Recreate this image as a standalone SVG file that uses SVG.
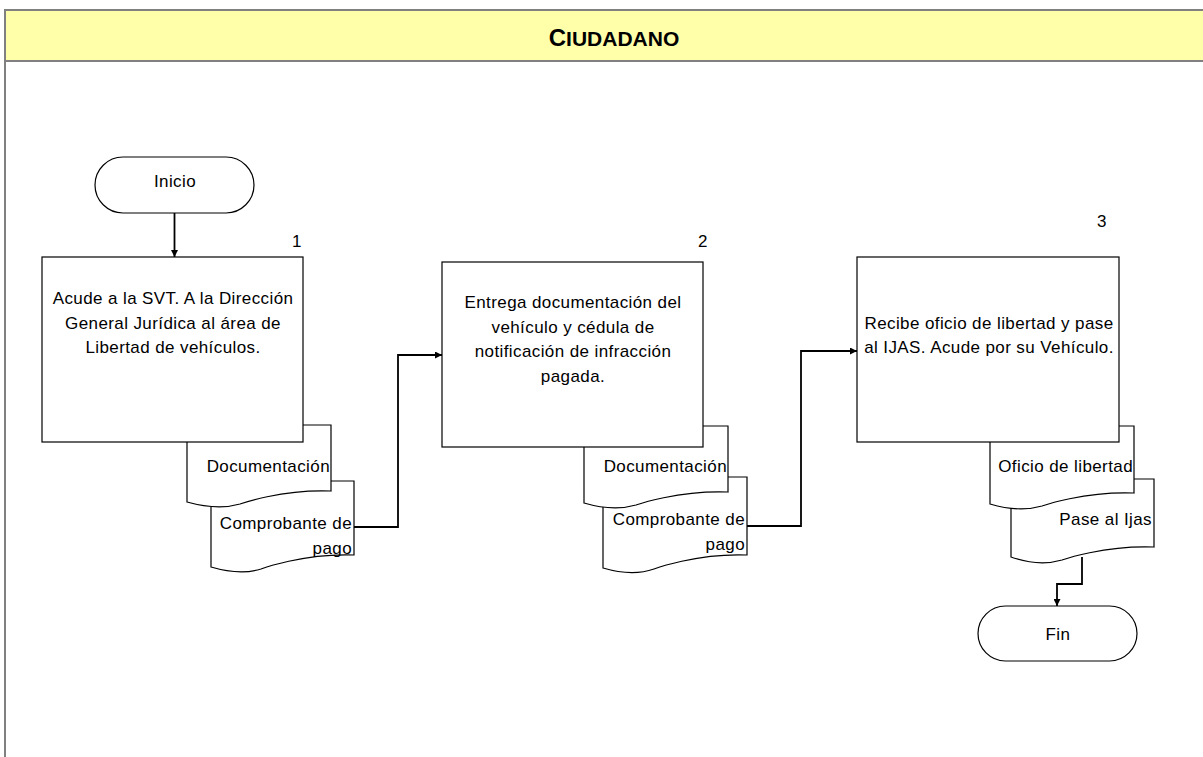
<svg xmlns="http://www.w3.org/2000/svg" width="1203" height="757" viewBox="0 0 1203 757">
<defs>
<style>
.lane{fill:none;stroke:#808080;stroke-width:2}
.box{fill:#fff;stroke:#000;stroke-width:1.2}
.t{font-family:"Liberation Sans",Arial,sans-serif;font-size:17px;letter-spacing:0.4px;fill:#000}
.m{text-anchor:middle}
.e{text-anchor:end}
.conn{fill:none;stroke:#000;stroke-width:1.8}
.title{font-family:"Liberation Sans",Arial,sans-serif;font-weight:bold;fill:#000;text-anchor:middle}
</style>
<marker id="arr" viewBox="0 0 10 10" refX="10" refY="5" markerWidth="7" markerHeight="7" markerUnits="userSpaceOnUse" orient="auto">
<path d="M0,0 L10,5 L0,10 Z" fill="#000"/>
</marker>
</defs>
<rect x="0" y="0" width="1203" height="757" fill="#fff"/>
<g id="lane">
<rect x="5" y="10" width="1200" height="51" fill="#FFFFAA"/>
<line class="lane" x1="4" y1="10" x2="1203" y2="10"/>
<line class="lane" x1="4" y1="61" x2="1203" y2="61"/>
<line class="lane" x1="5" y1="9" x2="5" y2="757"/>
<text class="title" x="614" y="46"><tspan font-size="24">C</tspan><tspan font-size="21">IUDADANO</tspan></text>
</g>
<g id="connectors">
<line class="conn" x1="174.5" y1="213" x2="174.5" y2="257" marker-end="url(#arr)"/>
<polyline class="conn" points="354,527 398,527 398,355 442,355" marker-end="url(#arr)"/>
<polyline class="conn" points="747,526 801,526 801,351 857,351" marker-end="url(#arr)"/>
<polyline class="conn" points="1082,557 1082,584 1057,584 1057,606" marker-end="url(#arr)"/>
</g>
<g id="inicio">
<rect class="box" x="95" y="157" width="159" height="56" rx="28" ry="28"/>
<text class="t m" x="175" y="187">Inicio</text>
</g>
<g id="doc1b">
<path class="box" d="M211,481 L354,481 L354,555 C304,553 261,569 261,569 C245,574 228,572 211,567 Z"/>
<text class="t e" x="352" y="529">Comprobante de</text>
<text class="t e" x="352" y="554">pago</text>
</g>
<g id="doc1a">
<path class="box" d="M187,425 L331,425 L331,491 C282,489 240,504 240,504 C223,509 205,507 187,502 Z"/>
<text class="t e" x="330" y="472">Documentación</text>
</g>
<g id="step1">
<rect class="box" x="42" y="257" width="261" height="185"/>
<text class="t m" x="173" y="304">Acude a la SVT. A la Dirección</text>
<text class="t m" x="173" y="329">General Jurídica al área de</text>
<text class="t m" x="173" y="353">Libertad de vehículos.</text>
<text class="t m" x="297" y="247">1</text>
</g>
<g id="doc2b">
<path class="box" d="M603,477 L747,477 L747,555 C697,553 654,569 654,569 C637,575 620,573 603,568 Z"/>
<text class="t e" x="745" y="525">Comprobante de</text>
<text class="t e" x="745" y="550">pago</text>
</g>
<g id="doc2a">
<path class="box" d="M584,426 L728,426 L728,492 C679,490 636,505 636,505 C619,510 601,508 584,503 Z"/>
<text class="t e" x="727" y="472">Documentación</text>
</g>
<g id="step2">
<rect class="box" x="442" y="262" width="261" height="185"/>
<text class="t m" x="573" y="308">Entrega documentación del</text>
<text class="t m" x="573" y="333">vehículo y  cédula de</text>
<text class="t m" x="573" y="357">notificación de infracción</text>
<text class="t m" x="573" y="382">pagada.</text>
<text class="t m" x="703" y="247">2</text>
</g>
<g id="doc3b">
<path class="box" d="M1011,479 L1154,479 L1154,547 C1105,545 1062,560 1062,560 C1045,565 1028,563 1011,557 Z"/>
<text class="t e" x="1152" y="525">Pase al Ijas</text>
</g>
<g id="doc3a">
<path class="box" d="M990,426 L1134,426 L1134,493 C1085,491 1042,506 1042,506 C1025,511 1007,509 990,504 Z"/>
<text class="t e" x="1133" y="472">Oficio de libertad</text>
</g>
<g id="step3">
<rect class="box" x="857" y="257" width="262" height="185"/>
<text class="t m" x="989" y="329">Recibe oficio de libertad y pase</text>
<text class="t m" x="989" y="353">al IJAS. Acude por su Vehículo.</text>
<text class="t m" x="1102" y="227">3</text>
</g>
<g id="fin">
<rect class="box" x="978" y="606" width="159" height="55" rx="27.5" ry="27.5"/>
<text class="t m" x="1058" y="640">Fin</text>
</g>
</svg>
